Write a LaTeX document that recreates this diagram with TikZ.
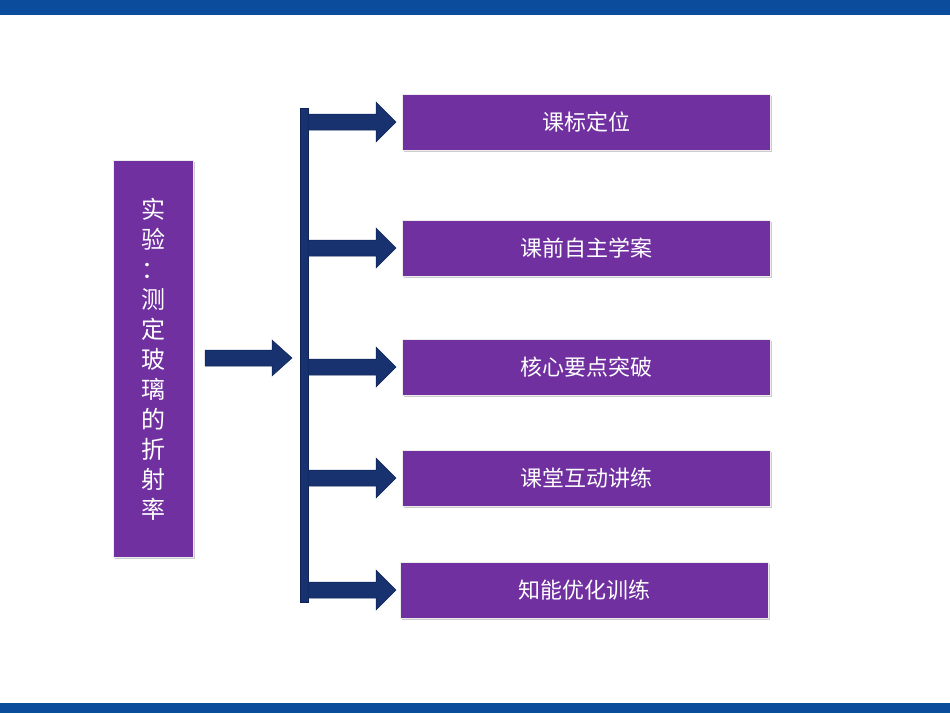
\documentclass[tikz,border=0pt]{standalone}
\usepackage{fontspec}
\usetikzlibrary{shadows}
\newfontfamily\cjk{Noto Sans CJK SC}
\definecolor{barblue}{RGB}{11,76,156}
\definecolor{purp}{RGB}{112,48,160}
\definecolor{navy}{RGB}{23,50,110}
\definecolor{navyd}{RGB}{15,35,85}
\begin{document}
\begin{tikzpicture}[x=1pt,y=-1pt,
  box/.style={draw=white!85!gray,line width=0.8pt,fill=purp,text=white,font=\cjk\fontsize{22}{26}\selectfont,inner sep=0pt,drop shadow={shadow xshift=2pt,shadow yshift=-2pt,opacity=0.4}},
  blk/.style={fill=navy,draw=navyd,line width=0.5pt}]
\useasboundingbox (0,0) rectangle (950,713);
\fill[white] (0,0) rectangle (950,713);
\fill[barblue] (0,0) rectangle (950,15);
\fill[barblue] (0,703) rectangle (950,713);
\node[box,minimum width=80pt,minimum height=397pt,anchor=north west,align=center,font=\cjk\fontsize{24}{30}\selectfont] (L) at (113,160) {实\\验\\：\\测\\定\\玻\\璃\\的\\折\\射\\率};
\filldraw[blk] (205,350) -- (272,350) -- (272,340) -- (292,358) -- (272,376) -- (272,366) -- (205,366) -- cycle;
\filldraw[blk] (300,108) rectangle (308,602);
\foreach \y/\n/\t/\xx in {122/b1/课标定位/402,248/b2/课前自主学案/402,367/b3/核心要点突破/402,478/b4/课堂互动讲练/402,590/b5/知能优化训练/400}{
  \filldraw[blk] (308,\y-8) -- (376,\y-8) -- (376,\y-20) -- (396,\y) -- (376,\y+20) -- (376,\y+8) -- (308,\y+8) -- cycle;
  \node[box,minimum width=368pt,minimum height=56pt,anchor=west] (\n) at (\xx,\y) {\t};
}
\end{tikzpicture}
\end{document}
